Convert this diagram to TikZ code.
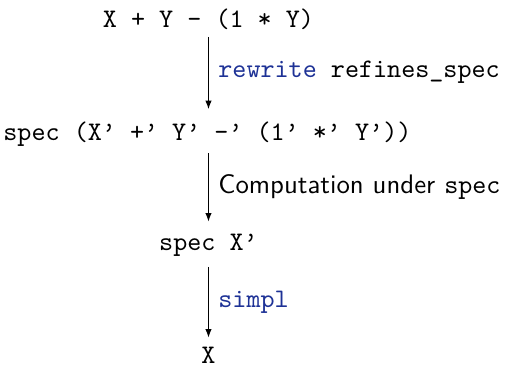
\documentclass[tikz,border=0pt]{standalone}
\usetikzlibrary{arrows.meta}
\definecolor{kwblue}{RGB}{30,50,150}
\begin{document}
\begin{tikzpicture}[x=1pt,y=-1pt,
  term/.style={font=\ttfamily, inner sep=0pt, anchor=base},
  lbl/.style={inner sep=0pt, anchor=base west},
  arr/.style={draw=black, line width=0.4pt, -{Latex[length=3.2pt,width=2.4pt]}, shorten <=2.4pt, shorten >=4.4pt}]
\useasboundingbox (0,0) rectangle (194.8,136.9);
\node[term] (a) at (77.8,10.3) {X + Y - (1 * Y)};
\node[term] (b) at (77.4,52.3) {spec (X’ +’ Y’ -’ (1’ *’ Y’))};
\node[term] (c) at (77.8,93.4) {spec X’};
\node[term] (d) at (77.8,135.7) {X};
\coordinate (ax) at (77.8,0);
\draw[arr] (a.south -| ax) -- (b.north -| ax);
\draw[arr] (b.south -| ax) -- (c.north -| ax);
\draw[arr, shorten <=3.8pt, shorten >=3.4pt] (c.south -| ax) -- (d.north -| ax);
\node[lbl] (la) at (81.3,29.0) {\texttt{\textcolor{kwblue}{rewrite} refines\_spec}};
\node[lbl] (lb) at (81.3,72.3) {\sffamily Computation under \texttt{spec}};
\node[lbl] (lc) at (81.3,114.6) {\texttt{\textcolor{kwblue}{simpl}}};
\end{tikzpicture}
\end{document}
